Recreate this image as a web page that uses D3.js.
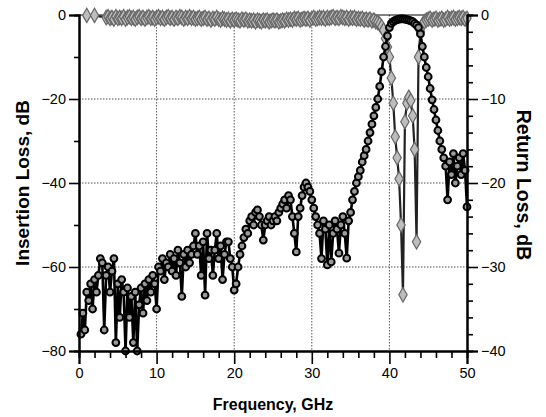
<!DOCTYPE html>
<html>
<head>
<meta charset="utf-8">
<script src="https://cdn.jsdelivr.net/npm/d3@7"></script>
<style>
  body { margin: 0; background: #fff; }
  text { font-family: "Liberation Sans", Arial, sans-serif; fill: #000; }
  .tick text { font-size: 14.5px; }
  .axis path, .axis line { stroke: #000; }
  .gridLine { stroke: #555; stroke-width: 1; stroke-dasharray: 1.5,1.5; }
</style>
</head>
<body>
<script>
var w = 546;
var h = 417;

// frequency sweep, GHz (0.25 GHz step)
var freq = d3.range(0.25, 50.001, 0.25);

// insertion loss, dB (left axis) - one row per GHz
var insertionLoss = [
  -76, -71, -75, -66,
  -68, -64, -70, -63,
  -66, -62, -58, -59,
  -75, -62, -60, -66,
  -61, -58, -78, -64,
  -72, -63, -66, -80,
  -65, -72, -67, -78,
  -66, -80, -69, -65,
  -71, -64, -68, -63,
  -66, -62, -64, -70,
  -60, -61, -58, -63,
  -59, -60, -57, -61,
  -58, -62, -56, -59,
  -67, -57, -60, -56,
  -59, -57, -55, -52,
  -57, -55, -62, -54,
  -66.7, -52, -58, -56,
  -62, -56, -52, -58,
  -55, -63, -57, -54,
  -54, -58, -60, -65.5,
  -64, -60, -57, -55,
  -53, -51, -52, -49,
  -48, -50, -47, -46.4,
  -48, -50, -53.6, -50,
  -49, -48, -50, -49,
  -48, -49, -47, -46,
  -45, -44, -46, -43,
  -44, -48, -52, -56.4,
  -48, -46, -43, -41,
  -40, -41, -42, -44,
  -46, -48, -50, -52,
  -58, -49, -51, -59.5,
  -50, -58.8, -52, -49,
  -51, -56.7, -50, -48,
  -52, -57.9, -49, -47,
  -44, -42, -40, -38.5,
  -37, -35, -33.5, -32,
  -30, -28, -26, -24,
  -22, -20, -17, -13.5,
  -10, -7.5, -5, -3,
  -2, -1.6, -1.3, -1.1,
  -1.0, -0.9, -0.9, -1.0,
  -1.1, -1.2, -1.4, -1.6,
  -2.0, -2.4, -3.0, -4.5,
  -7.5, -10, -12.5, -14.7,
  -17.5, -20.2, -22.5, -25,
  -27.5, -30, -32, -34,
  -36, -44, -35, -38,
  -33, -40, -36, -34,
  -38, -33, -37, -45.7
];

// return loss, dB (right axis) - null where no sample was plotted
var returnLoss = [
  null, null, null, -0.05,
  null, null, null, -0.05,
  null, null, null, null,
  null, -0.3, -0.2, -0.4,
  -0.3, -0.5, -0.2, -0.4,
  -0.3, -0.4, -0.2, -0.5,
  -0.3, -0.2, -0.4, -0.3,
  -0.5, -0.3, -0.2, -0.4,
  -0.3, -0.5, -0.3, -0.2,
  -0.4, -0.3, -0.5, -0.3,
  -0.2, -0.4, -0.3, -0.5,
  -0.3, -0.2, -0.4, -0.3,
  -0.5, -0.3, -0.4, -0.2,
  -0.3, -0.5, -0.3, -0.4,
  -0.2, -0.4, -0.3, -0.5,
  -0.4, -0.3, -0.5, -0.4,
  -0.3, -0.5, -0.4, -0.6,
  -0.4, -0.5, -0.3, -0.5,
  -0.6, -0.4, -0.5, -0.6,
  -0.5, -0.7, -0.5, -0.6,
  -0.5, -0.6, -0.7, -0.5,
  -0.6, -0.5, -0.7, -0.6,
  -0.7, -0.6, -0.8, -0.6,
  -0.7, -0.8, -0.6, -0.7,
  -0.6, -0.8, -0.7, -0.6,
  -0.7, -0.6, -0.8, -0.7,
  -0.6, -0.7, -0.5, -0.6,
  -0.5, -0.6, -0.4, -0.5,
  -0.4, -0.6, -0.5, -0.4,
  -0.5, -0.4, -0.6, -0.4,
  -0.3, -0.5, -0.4, -0.3,
  -0.4, -0.3, -0.5, -0.3,
  -0.4, -0.3, -0.2, -0.4,
  -0.3, -0.4, -0.2, -0.3,
  -0.4, -0.3, -0.5, -0.3,
  -0.4, -0.3, -0.5, -0.4,
  -0.5, -0.4, -0.6, -0.5,
  -0.6, -0.5, -0.7, -0.6,
  -0.8, -0.9, -1.1, -1.4,
  -1.8, -2.8, -3.8, -5.0,
  -7.5, -10.5, -14.5, -17,
  -19.5, -25, -33.3, -12.7,
  -10.5, -9.8, -10.2, -12,
  -16, -27, -5, -2,
  -1.2, -0.8, -0.6, -0.5,
  -0.4, -0.6, -0.5, -0.4,
  -0.6, -0.5, -0.4, -0.6,
  -0.5, -0.3, -0.5, -0.4,
  -0.3, -0.5, -0.4, -0.3,
  -0.4, -0.3, -0.5, -0.4
];

var xTicks = [0, 10, 20, 30, 40, 50];
var xMinor = [2, 4, 6, 8, 12, 14, 16, 18, 22, 24, 26, 28, 32, 34, 36, 38, 42, 44, 46, 48];
var yLeftTicks = [0, -20, -40, -60, -80];
var yLeftMinor = [-10, -30, -50, -70];
var yRightTicks = [0, -10, -20, -30, -40];
var yRightMinor = [-2, -4, -6, -8, -12, -14, -16, -18, -22, -24, -26, -28, -32, -34, -36, -38];
var xGrid = [10, 20, 30, 40];
var yGrid = [-20, -40, -60];

var ilData = freq.map(function(f, i) { return {f: f, v: insertionLoss[i]}; });
var rlData = freq.map(function(f, i) { return {f: f, v: returnLoss[i]}; })
                 .filter(function(d) { return d.v !== null; });

var xScale = d3.scaleLinear()
               .domain([0, 50])
               .range([79, 467]);

var yLeft = d3.scaleLinear()
              .domain([-80, 0])
              .range([351, 15]);

var yRight = d3.scaleLinear()
               .domain([-40, 0])
               .range([351, 15]);

var svg = d3.select("body")
            .append("svg")
            .attr("width", w)
            .attr("height", h);

// grid
svg.selectAll("xGrid")
   .data(xGrid)
   .enter()
   .append("line")
   .attr("class", "gridLine")
   .attr("x1", function(d) { return xScale(d); })
   .attr("x2", function(d) { return xScale(d); })
   .attr("y1", yLeft(0))
   .attr("y2", yLeft(-80));

svg.selectAll("yGrid")
   .data(yGrid)
   .enter()
   .append("line")
   .attr("class", "gridLine")
   .attr("x1", xScale(0))
   .attr("x2", xScale(50))
   .attr("y1", function(d) { return yLeft(d); })
   .attr("y2", function(d) { return yLeft(d); });

// top frame
svg.append("line")
   .attr("x1", xScale(0))
   .attr("x2", xScale(50))
   .attr("y1", yLeft(0))
   .attr("y2", yLeft(0))
   .attr("stroke", "#000")
   .attr("stroke-width", 1);

// return loss
var rlLine = d3.line()
               .x(function(d) { return xScale(d.f); })
               .y(function(d) { return yRight(d.v); });

svg.append("path")
   .datum(rlData)
   .attr("d", rlLine)
   .attr("fill", "none")
   .attr("stroke", "#222")
   .attr("stroke-width", 2.2);

svg.selectAll("rlPoints")
   .data(rlData)
   .enter()
   .append("path")
   .attr("d", d3.symbol().type(d3.symbolDiamond).size(60))
   .attr("transform", function(d) {
     return "translate(" + xScale(d.f) + "," + yRight(d.v) + ")";
   })
   .attr("fill", "#bdbdbd")
   .attr("stroke", "#666")
   .attr("stroke-width", 1.2);

// insertion loss
var ilLine = d3.line()
               .x(function(d) { return xScale(d.f); })
               .y(function(d) { return yLeft(d.v); });

svg.append("path")
   .datum(ilData)
   .attr("d", ilLine)
   .attr("fill", "none")
   .attr("stroke", "#000")
   .attr("stroke-width", 2.6);

svg.selectAll("ilPoints")
   .data(ilData)
   .enter()
   .append("circle")
   .attr("cx", function(d) { return xScale(d.f); })
   .attr("cy", function(d) { return yLeft(d.v); })
   .attr("r", 3.4)
   .attr("fill", "#9a9a9a")
   .attr("stroke", "#000")
   .attr("stroke-width", 2);

// axes
var xAxis = d3.axisBottom(xScale).tickValues(xTicks).tickSize(13).tickPadding(4);
var xAxisMinor = d3.axisBottom(xScale).tickValues(xMinor).tickSize(7).tickFormat("");
var leftAxis = d3.axisLeft(yLeft).tickValues(yLeftTicks).tickSize(10).tickPadding(3);
var leftAxisMinor = d3.axisLeft(yLeft).tickValues(yLeftMinor).tickSize(5).tickFormat("");
var rightAxis = d3.axisRight(yRight).tickValues(yRightTicks).tickSize(11).tickPadding(3);
var rightAxisMinor = d3.axisRight(yRight).tickValues(yRightMinor).tickSize(6).tickFormat("");

function drawAxis(axis, tx, ty) {
  var g = svg.append("g")
             .attr("class", "axis")
             .attr("transform", "translate(" + tx + "," + ty + ")")
             .call(axis);
  g.select(".domain").attr("stroke-width", 2);
  g.selectAll(".tick line").attr("stroke-width", 1.6);
  return g;
}

drawAxis(xAxisMinor, 0, 351);
drawAxis(xAxis, 0, 351);
drawAxis(leftAxisMinor, 79, 0);
drawAxis(leftAxis, 79, 0);
drawAxis(rightAxisMinor, 467, 0);
drawAxis(rightAxis, 467, 0);

// axis titles
svg.append("text")
   .attr("transform", "translate(273,410) scale(0.94,1)")
   .attr("text-anchor", "middle")
   .attr("font-size", "17px")
   .attr("font-weight", "bold")
   .text("Frequency, GHz");

svg.append("text")
   .attr("transform", "translate(29,183) rotate(-90)")
   .attr("text-anchor", "middle")
   .attr("font-size", "19px")
   .attr("font-weight", "bold")
   .text("Insertion Loss, dB");

svg.append("text")
   .attr("transform", "translate(517,185) rotate(90)")
   .attr("text-anchor", "middle")
   .attr("font-size", "19.5px")
   .attr("font-weight", "bold")
   .text("Return Loss, dB");
</script>
</body>
</html>
